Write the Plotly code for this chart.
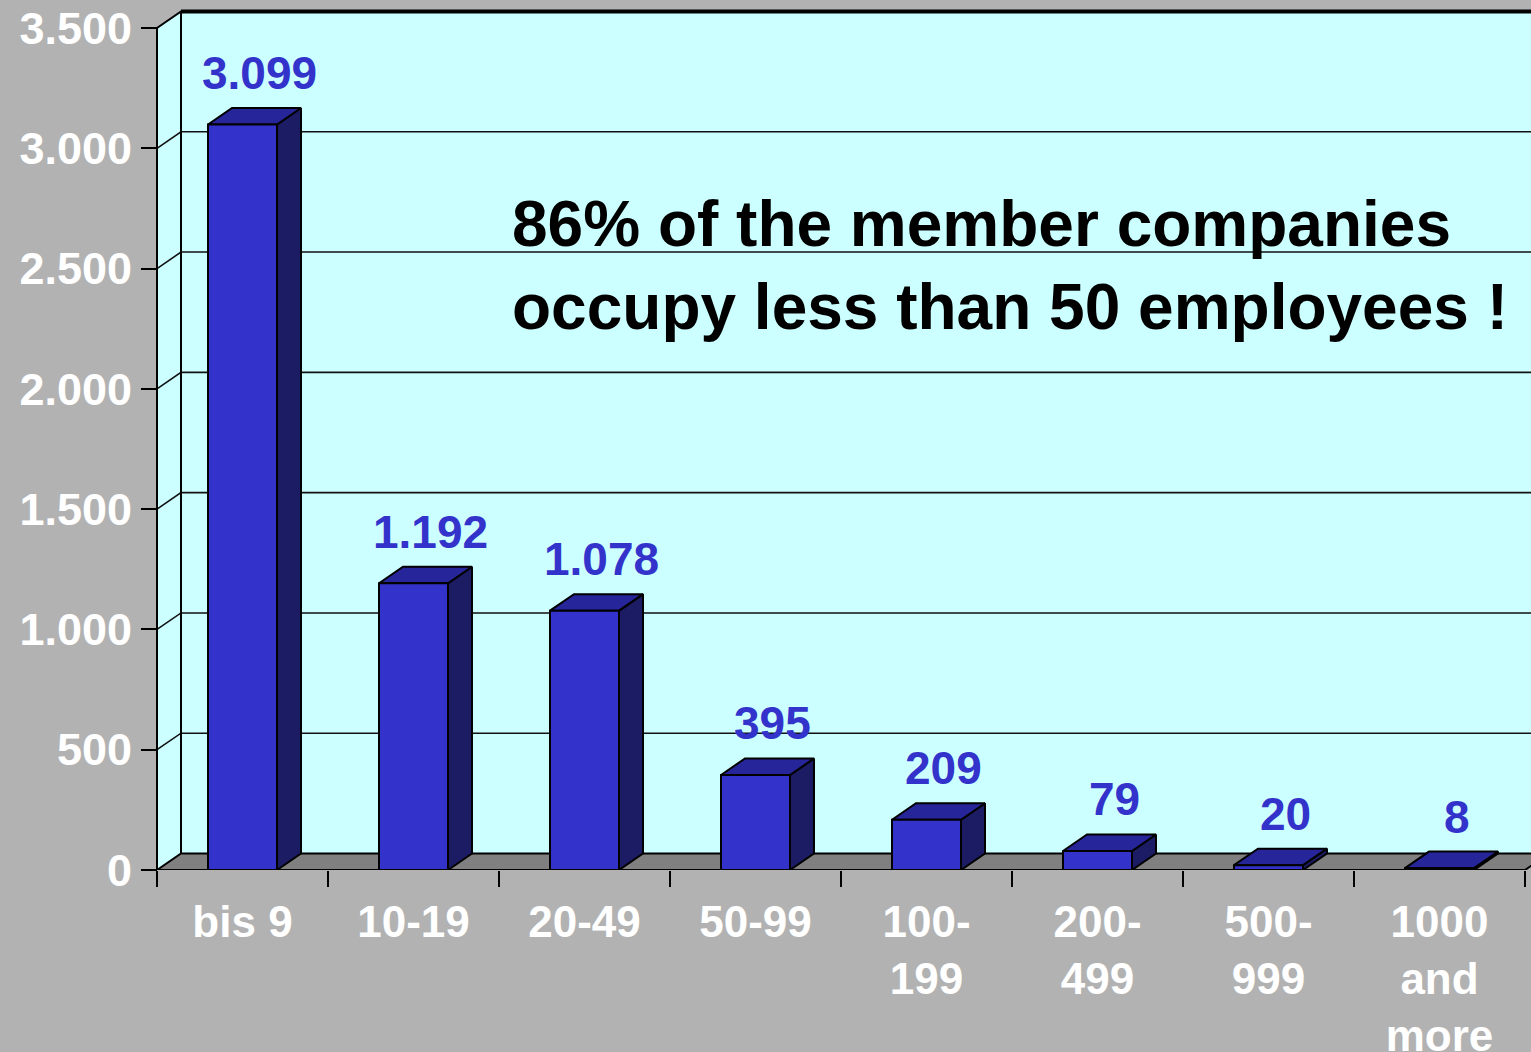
import plotly.graph_objects as go

# ---- data ----
categories = ["bis 9", "10-19", "20-49", "50-99", "100-<br>199", "200-<br>499",
              "500-<br>999", "1000<br>and<br>more"]
values = [3099, 1192, 1078, 395, 209, 79, 20, 8]
y_ticks = [0, 500, 1000, 1500, 2000, 2500, 3000, 3500]
note_lines = ["86% of the member companies", "occupy less than 50 employees !"]

# ---- geometry / style ----
W, H = 1531, 1052
X0_PX, CAT_PX, Y0_PX, Y_TOP_PX = 157, 171, 870, 28
YMAX = y_ticks[-1]
PXV = (Y0_PX - Y_TOP_PX) / YMAX
DX = 24 / CAT_PX
DY = 16.5 / PXV
BAR_L, BAR_R = 51 / CAT_PX, 120 / CAT_PX
X_RANGE = [-X0_PX / CAT_PX, (W - X0_PX) / CAT_PX]
Y_RANGE = [0, Y0_PX / PXV]
NCAT = len(values)

BG = "#B2B2B2"
WALL = "#CCFFFF"
FLOOR = "#808080"
FRONT = "#3333CC"
TOP = "#26269A"
SIDE = "#1C1C64"
LABEL = "#3333CC"
FONT = "Liberation Sans, Arial, sans-serif"

fig = go.Figure()


def poly(xs, ys, fill=None, lw=2, color="black"):
    xs = list(xs) + [xs[0]]
    ys = list(ys) + [ys[0]]
    fig.add_trace(go.Scatter(
        x=xs, y=ys, mode="lines",
        fill="toself" if fill else None, fillcolor=fill,
        line=dict(color=color, width=lw),
        hoverinfo="skip", showlegend=False))


def lines(xs, ys, lw=2, color="black"):
    fig.add_trace(go.Scatter(x=xs, y=ys, mode="lines",
                             line=dict(color=color, width=lw),
                             hoverinfo="skip", showlegend=False))


XEND = X_RANGE[1] + 0.5
# walls
poly([0, 0, DX, DX], [0, YMAX, YMAX + DY, DY], fill=WALL, lw=0, color=WALL)
poly([DX, DX, XEND, XEND], [DY, YMAX + DY, YMAX + DY, DY], fill=WALL, lw=0, color=WALL)

# gridlines
gx, gy = [], []
for t in y_ticks[1:-1]:
    gx += [0, DX, XEND, None]
    gy += [t, t + DY, t + DY, None]
lines(gx, gy, lw=1.6, color="#111111")

# floor
poly([0, DX, NCAT + DX, NCAT], [0, DY, DY, 0], fill=FLOOR, lw=2)

# wall borders
lines([0, 0, DX, XEND], [0, YMAX, YMAX + DY, YMAX + DY], lw=2)
lines([DX, XEND], [YMAX + DY, YMAX + DY], lw=4)
lines([DX, DX], [DY, YMAX + DY], lw=2)

# bars
for i, v in enumerate(values):
    xl, xr = i + BAR_L, i + BAR_R
    poly([xr, xr + DX, xr + DX, xr], [0, DY, v + DY, v], fill=SIDE, lw=2)
    poly([xl, xl + DX, xr + DX, xr], [v, v + DY, v + DY, v], fill=TOP, lw=2)
    poly([xl, xl, xr, xr], [0, v, v, 0], fill=FRONT, lw=2)
    fig.add_annotation(
        x=i + 0.5 + 0.1, y=v + DY, xref="x", yref="y",
        text=f"{v:,}".replace(",", "."), showarrow=False,
        yanchor="bottom", yshift=7,
        font=dict(family=FONT, size=46, color=LABEL, weight="bold"))

# note
fig.add_annotation(
    x=510 / W, y=(870 - 265) / 870, xref="paper", yref="paper",
    xanchor="left", yanchor="middle", align="left", showarrow=False,
    text="<br>".join(note_lines),
    font=dict(family=FONT, size=64, color="black", weight="bold"))

fig.update_layout(
    template="none",
    width=W, height=H,
    margin=dict(l=0, r=0, t=0, b=182, autoexpand=False),
    paper_bgcolor=BG, plot_bgcolor=BG,
    separators=",.",
    showlegend=False,
    xaxis=dict(
        range=X_RANGE, showgrid=False, zeroline=False, showline=False,
        automargin=False,
        tickmode="array", tickvals=[i + 0.5 for i in range(NCAT)], ticktext=categories,
        ticks="outside", ticklen=13, tickcolor="rgba(0,0,0,0)",
        tickfont=dict(family=FONT, size=44, color="white", weight="bold"),
        minor=dict(tickmode="array", tickvals=list(range(NCAT + 1)), ticks="outside",
                   ticklen=16, tickwidth=2, tickcolor="black", showgrid=False),
    ),
    yaxis=dict(
        range=Y_RANGE, showgrid=False, zeroline=False, showline=False,
        automargin=False, anchor="free", position=X0_PX / W,
        tickmode="array", tickvals=y_ticks, tickformat=",d",
        ticks="outside", ticklen=16, tickwidth=2, tickcolor="black",
        tickfont=dict(family=FONT, size=45, color="white", weight="bold"),
    ),
)

fig.write_html("out.html", config={"displayModeBar": False},
               post_script="document.body.style.margin='0';document.body.style.overflow='hidden';")
